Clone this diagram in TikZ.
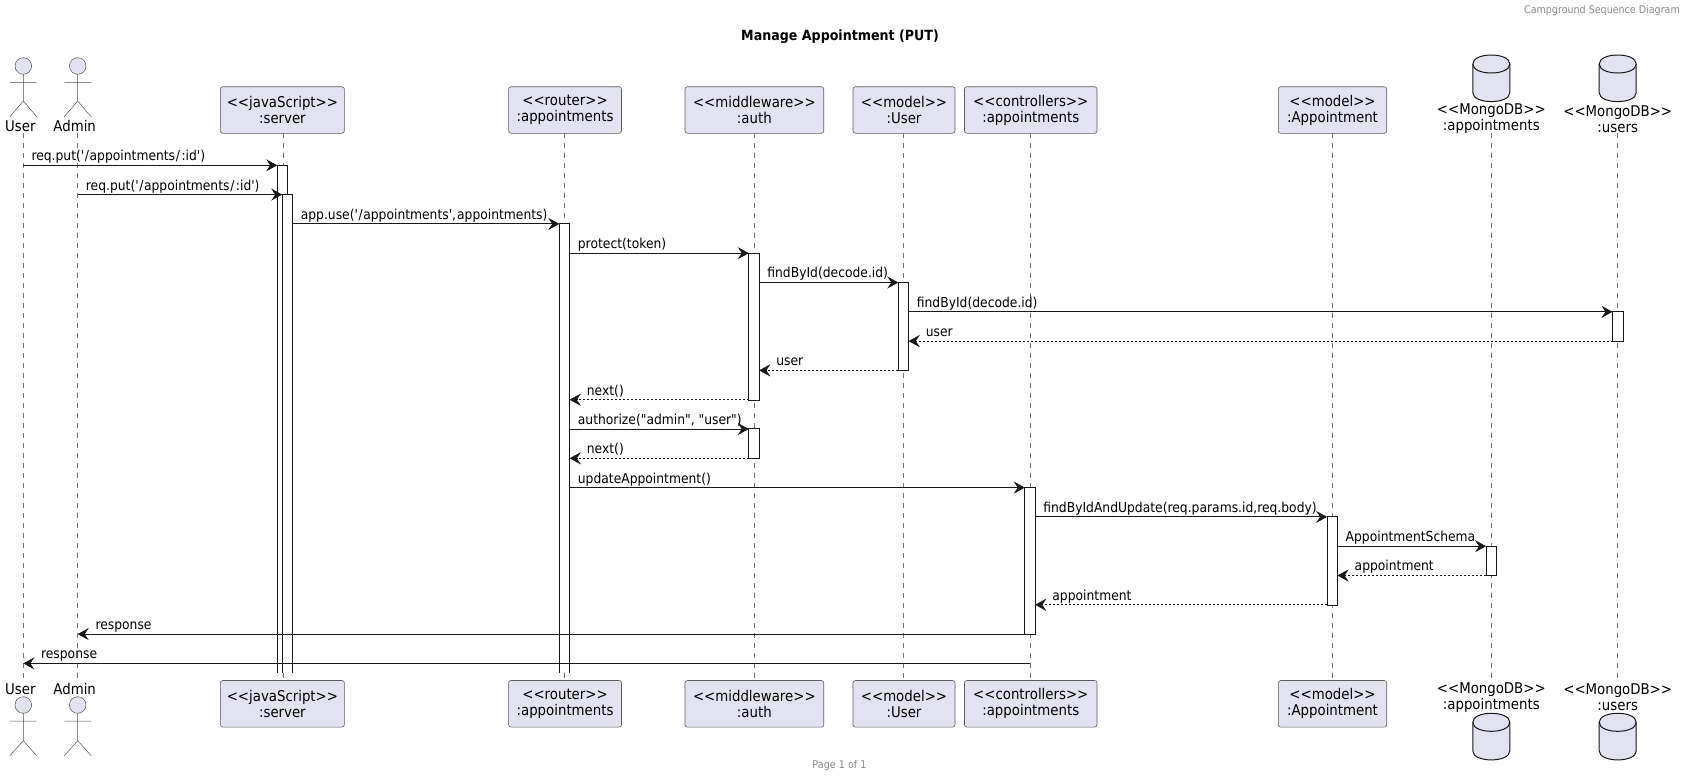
\documentclass[tikz,border=0pt]{standalone}
\usepackage{fontspec}
\newfontfamily\basefont[FakeStretch=0.9]{DejaVu Sans}
\newfontfamily\titlefont[FakeStretch=0.9]{DejaVu Sans Bold}
\usetikzlibrary{arrows.meta,calc}
\definecolor{partfill}{HTML}{E2E2F0}
\definecolor{ink}{HTML}{181818}
\definecolor{hdr}{HTML}{888888}
\tikzset{
  x=1pt,y=-1pt,
  pbox/.style={draw=ink!70,line width=0.6pt,fill=partfill,rounded corners=2.5pt,inner sep=0pt,align=center,text=black,font=\basefont\fontsize{14.8}{16}\selectfont},
  ptext/.style={inner sep=0pt,align=center,text=black,font=\basefont\fontsize{14.8}{16}\selectfont},
  life/.style={draw=ink!60,line width=0.55pt,dash pattern=on 4.5pt off 5.5pt},
  actbar/.style={fill=white,inner sep=0pt,minimum width=10pt},
  barline/.style={draw=ink,line width=0.7pt},
  msg/.style={draw=ink,line width=0.85pt,-{Stealth[length=11pt,width=12pt,inset=4pt]}},
  ret/.style={draw=ink,line width=0.65pt,dash pattern=on 2pt off 2pt,-{Stealth[length=11pt,width=12pt,inset=4pt,line width=0.1pt,sep=0pt]}},
  lbl/.style={inner sep=0pt,anchor=base west,text=black,font=\basefont\fontsize{13.7}{16}\selectfont},
  figure/.style={draw=ink!75,line width=0.5pt},
  dbshape/.style={draw=ink,line width=1pt,fill=partfill},
}
\newcommand\pbox[4]{%
  \node[pbox,minimum width=#3pt-#2pt,minimum height=46.6pt] (h#1) at ({(#2+#3)/2},110) {#4};
  \node[pbox,minimum width=#3pt-#2pt,minimum height=46.6pt] (f#1) at ({(#2+#3)/2},703.8) {#4};
}
\newcommand\actor[3]{%
  \node[ptext] (h#1) at (#2-3,126) {#3};
  \node[ptext] (f#1) at (#2-3,689) {#3};
  \draw[figure,fill=partfill] (#2,66) circle (8.3);
  \draw[figure] (#2,74.3) -- (#2,101) (#2-13.4,82.3) -- (#2+13.4,82.3) (#2-13.4,116.7) -- (#2,101) -- (#2+13.4,116.7);
  \draw[figure,fill=partfill] (#2,705) circle (8.3);
  \draw[figure] (#2,713.3) -- (#2,740.7) (#2-13.4,721) -- (#2+13.4,721) (#2-13.4,755.7) -- (#2,740.7) -- (#2+13.4,755.7);
  \coordinate (t#1) at (#2,133.3);
  \coordinate (b#1) at (#2,680.3);
}
\newcommand\dbcyl[2]{%
  \draw[dbshape] (#1-18.5,#2+9) .. controls (#1-18.5,#2-3) and (#1+18.5,#2-3) .. (#1+18.5,#2+9)
    -- (#1+18.5,#2+37.6) .. controls (#1+18.5,#2+49.6) and (#1-18.5,#2+49.6) .. (#1-18.5,#2+37.6) -- cycle;
  \draw[dbshape,fill=none] (#1-18.5,#2+9) .. controls (#1-18.5,#2+21) and (#1+18.5,#2+21) .. (#1+18.5,#2+9);
}
\newcommand\db[3]{%
  \node[ptext] (h#1) at (#2,118.9) {#3};
  \node[ptext] (f#1) at (#2,697.5) {#3};
  \dbcyl{#2}{55}
  \dbcyl{#2}{713.3}
  \coordinate (t#1) at (#2,133.3);
  \coordinate (b#1) at (#2,680.3);
}
\newcommand\abar[4]{%
  \node[actbar,minimum height=#4pt-#3pt] (#1) at (#2,{(#3+#4)/2}) {};
  \draw[barline] (#1.south west) rectangle (#1.north east);
}
% bar that runs on to the end of the diagram: no closing line
\newcommand\obar[4]{%
  \node[actbar,minimum height=#4pt-#3pt] (#1) at (#2,{(#3+#4)/2}) {};
  \draw[barline] (#1.south west) -- (#1.north west) -- (#1.north east) -- (#1.south east);
}
\newcommand\mess[6]{%
  \draw[#1] (#2 |- y#4) -- (#3 |- y#4);
  \node[lbl] (m#4) at ($(#2 |- y#4)+(#5,-4.6)$) {#6};
}
\begin{document}
\begin{tikzpicture}
\useasboundingbox (0,0) rectangle (1686,779);
\fill[white] (0,0) rectangle (1686,779);
\node[inner sep=0pt,anchor=east,text=hdr,font=\basefont\fontsize{10.6}{12}\selectfont] (head) at (1680,11) {Campground Sequence Diagram};
\node[inner sep=0pt,text=black,font=\titlefont\fontsize{14.05}{16}\selectfont] (title) at (840,36.6) {Manage Appointment (PUT)};
\node[inner sep=0pt,text=hdr,font=\basefont\fontsize{10.7}{12}\selectfont] (foot) at (839.5,766) {Page 1 of 1};

\foreach \i in {0,...,17} {\coordinate (y\i) at (0,{165.3+29.3*\i});}

\pbox{Server}{220.4}{344.4}{<{}<javaScript>{}>\\:server}
\pbox{Router}{508.6}{621.5}{<{}<router>{}>\\:appointments}
\pbox{Auth}{685}{823.7}{<{}<middleware>{}>\\:auth}
\pbox{UserM}{853}{955}{<{}<model>{}>\\:User}
\pbox{Ctrl}{964.5}{1097}{<{}<controllers>{}>\\:appointments}
\pbox{ApptM}{1278.3}{1386.7}{<{}<model>{}>\\:Appointment}
\actor{User}{23.3}{User}
\actor{Admin}{77.7}{Admin}
\db{DbA}{1491.3}{<{}<MongoDB>{}>\\:appointments}
\db{DbU}{1617.7}{<{}<MongoDB>{}>\\:users}
\coordinate (tServer) at (282.8,133.3); \coordinate (bServer) at (282.8,680.3);
\coordinate (tRouter) at (564.5,133.3); \coordinate (bRouter) at (564.5,680.3);
\coordinate (tAuth) at (754,133.3); \coordinate (bAuth) at (754,680.3);
\coordinate (tUserM) at (903.5,133.3); \coordinate (bUserM) at (903.5,680.3);
\coordinate (tCtrl) at (1030,133.3); \coordinate (bCtrl) at (1030,680.3);
\coordinate (tApptM) at (1332.3,133.3); \coordinate (bApptM) at (1332.3,680.3);
\foreach \n in {User,Admin,Server,Router,Auth,UserM,Ctrl,ApptM,DbA,DbU} {\draw[life] (t\n) -- (b\n);}

\obar{aS}{282.4}{165.3}{672.7}
\obar{aSb}{287.4}{194.6}{672.7}
\obar{aR}{564.5}{223.9}{672.7}
\abar{aAu}{754}{253.2}{399.7}
\abar{aAv}{754}{429}{458.3}
\abar{aU}{903.5}{282.5}{370.4}
\abar{aDU}{1617.7}{311.8}{341.1}
\abar{aC}{1030}{487.6}{634.1}
\abar{aP}{1332.3}{516.9}{604.8}
\abar{aDA}{1491.3}{546.2}{575.5}

\mess{msg}{tUser}{aS.west}{0}{8}{req.put('\kern0.6pt/\kern0.6pt appointments\kern0.8pt/\kern1.4pt:id')}
\mess{msg}{tAdmin}{aSb.west}{1}{8}{req.put('\kern0.6pt/\kern0.6pt appointments\kern0.8pt/\kern1.4pt:id')}
\mess{msg}{aSb.east}{aR.west}{2}{8}{app.use('\kern0.6pt/\kern0.6pt appointments',\kern1pt appointments)}
\mess{msg}{aR.east}{aAu.west}{3}{8}{protect(token)}
\mess{msg}{aAu.east}{aU.west}{4}{8}{findById(decode.id)}
\mess{msg}{aU.east}{aDU.west}{5}{8}{findById(decode.id)}
\draw[ret] (aDU.west |- y6) -- (aU.east |- y6);
\node[lbl] (m6) at ($(aU.east |- y6)+(17,-4.6)$) {user};
\draw[ret] (aU.west |- y7) -- (aAu.east |- y7);
\node[lbl] (m7) at ($(aAu.east |- y7)+(17,-4.6)$) {user};
\draw[ret] (aAu.west |- y8) -- (aR.east |- y8);
\node[lbl] (m8) at ($(aR.east |- y8)+(17,-4.6)$) {next()};
\mess{msg}{aR.east}{aAv.west}{9}{8}{authorize("admin", "user")}
\draw[ret] (aAv.west |- y10) -- (aR.east |- y10);
\node[lbl] (m10) at ($(aR.east |- y10)+(17,-4.6)$) {next()};
\mess{msg}{aR.east}{aC.west}{11}{8}{updateAppointment()}
\mess{msg}{aC.east}{aP.west}{12}{8}{findByIdAndUpdate(req.params.id,req.body)}
\mess{msg}{aP.east}{aDA.west}{13}{8}{AppointmentSchema}
\draw[ret] (aDA.west |- y14) -- (aP.east |- y14);
\node[lbl] (m14) at ($(aP.east |- y14)+(17,-4.6)$) {appointment};
\draw[ret] (aP.west |- y15) -- (aC.east |- y15);
\node[lbl] (m15) at ($(aC.east |- y15)+(17,-4.6)$) {appointment};
\draw[msg] (aC.west |- y16) -- (tAdmin |- y16);
\node[lbl] (m16) at ($(tAdmin |- y16)+(17.6,-4.6)$) {response};
\draw[msg] (tCtrl |- y17) -- (tUser |- y17);
\node[lbl] (m17) at ($(tUser |- y17)+(17.6,-4.6)$) {response};
\end{tikzpicture}
\end{document}
